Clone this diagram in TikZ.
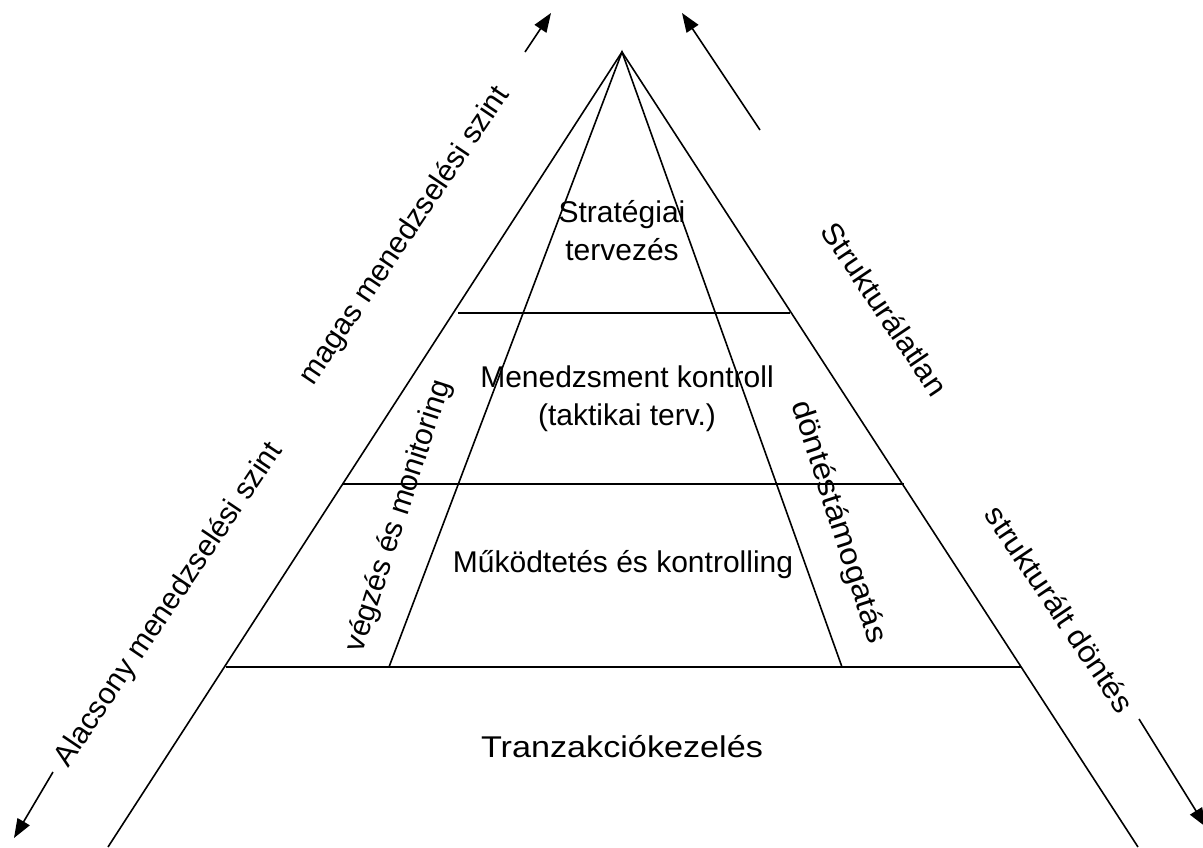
\documentclass[tikz,border=0pt]{standalone}
\usepackage{fontspec}
\usepackage{graphicx}
\setmainfont{Liberation Sans}
\usetikzlibrary{arrows.meta}
\newcommand{\widen}[2]{\scalebox{#1}[1]{#2}}
\begin{document}
\begin{tikzpicture}[x=1pt,y=-1pt,
  edge/.style={line width=1.6pt, black},
  divider/.style={line width=1.4pt, black},
  dirarrow/.style={line width=1.6pt, -{Triangle[length=19pt,width=14pt]}},
  lbl/.style={font=\fontsize{30}{38}\selectfont, align=center, inner sep=0pt},
]
\useasboundingbox (0,0) rectangle (1203,847);

% pyramid frame
\coordinate (apex) at (622,52);
\coordinate (outerL) at (108,847);
\coordinate (outerR) at (1138,847);
\coordinate (innerL) at (389,667);
\coordinate (innerR) at (842,667);
\draw[edge] (outerL) -- (apex) -- (outerR);
\draw[edge] (innerL) -- (apex) -- (innerR);

% level separators
\coordinate (s1L) at (458,313); \coordinate (s1R) at (790,313);
\coordinate (s2L) at (343,484); \coordinate (s2R) at (904,484);
\coordinate (s3L) at (226,667); \coordinate (s3R) at (1021,667);
\draw[divider] (s1L) -- (s1R);
\draw[divider] (s2L) -- (s2R);
\draw[divider] (s3L) -- (s3R);

% direction arrows
\coordinate (a1s) at (525,52);   \coordinate (a1e) at (551,13);
\coordinate (a2s) at (760,130);  \coordinate (a2e) at (682,13);
\coordinate (a3s) at (53,772);   \coordinate (a3e) at (14,838);
\coordinate (a4s) at (1139,719); \coordinate (a4e) at (1206,827);
\draw[dirarrow] (a1s) -- (a1e);
\draw[dirarrow] (a2s) -- (a2e);
\draw[dirarrow] (a3s) -- (a3e);
\draw[dirarrow] (a4s) -- (a4e);

% level names
\node[lbl] (strat) at (622,231) {Stratégiai\\tervezés};
\node[lbl] (menk) at (627,399) {Menedzsment kontroll\\(taktikai terv.)};
\node[lbl] (mukod) at (623,565) {Működtetés és kontrolling};
\node[lbl] (tranz) at (622,747) {\widen{1.14}{Tranzakciókezelés}};

% side labels
\node[lbl, rotate=72] (vegzes) at (399,516) {végzés és monitoring};
\node[lbl, rotate=-72] (dontes) at (838,522) {\widen{1.1}{döntéstámogatás}};
\node[lbl, rotate=56] (magas) at (405,236) {magas menedzselési szint};
\node[lbl, rotate=56] (alacs) at (169,605) {Alacsony menedzselési szint};
\node[lbl, rotate=-56] (strukt) at (885,309) {\widen{1.04}{Strukturálatlan}};
\node[lbl, rotate=-56] (struktd) at (1060,609) {\widen{1.05}{strukturált döntés}};
\end{tikzpicture}
\end{document}
